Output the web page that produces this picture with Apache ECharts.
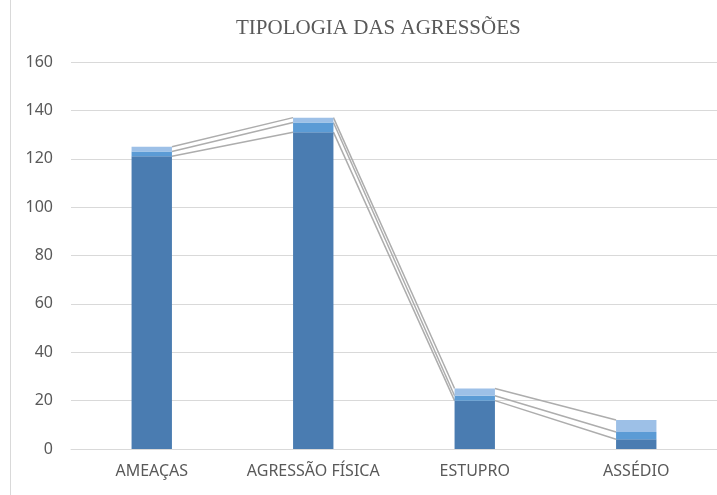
<!DOCTYPE html>
<html>
<head>
<meta charset="utf-8">
<script src="https://cdn.jsdelivr.net/npm/echarts@6/dist/echarts.min.js"></script>
<style>
  html, body { margin: 0; padding: 0; background: #fff; }
  #chart { width: 717px; height: 495px; }
</style>
</head>
<body>
<div id="chart"></div>
<script>
  // data (stacked, three layers per category)
  var categories = ['AMEAÇAS', 'AGRESSÃO FÍSICA', 'ESTUPRO', 'ASSÉDIO']
  var layer1 = [121, 131, 20, 4]
  var layer2 = [2, 4, 2, 3]
  var layer3 = [2, 2, 3, 5]
  var yTicks = { min: 0, max: 160, interval: 20 }

  var layers = [layer1, layer2, layer3]
  var colors = ['#4a7cb1', '#5b9bd5', '#9dc0e7']
  var barRatio = 0.25

  // cumulative tops of each layer, used for the series lines
  var cumulative = []
  layers.forEach(function(layer, k) {
    cumulative.push(layer.map(function(v, i) {
      return k === 0 ? v : cumulative[k - 1][i] + v
    }))
  })

  var linkData = []
  for (var i = 0; i < categories.length - 1; i++) {
    for (var k = 0; k < layers.length; k++) {
      linkData.push([i, k])
    }
  }

  var series = layers.map(function(layer, k) {
    return {
      name: 'S' + (k + 1),
      type: 'bar',
      stack: 'total',
      barWidth: '25%',
      itemStyle: { color: colors[k] },
      data: layer
    }
  })

  series.push({
    type: 'custom',
    silent: true,
    data: linkData,
    renderItem: function(params, api) {
      var idx = api.value(0)
      var k = api.value(1)
      var p0 = api.coord([idx, cumulative[k][idx]])
      var p1 = api.coord([idx + 1, cumulative[k][idx + 1]])
      var half = api.size([1, 0])[0] * barRatio / 2
      return {
        type: 'line',
        shape: { x1: p0[0] + half, y1: p0[1], x2: p1[0] - half, y2: p1[1] },
        style: { stroke: '#adadad', lineWidth: 1.5 }
      }
    }
  })

  var chart = echarts.init(document.getElementById('chart'))
  chart.setOption({
    animation: false,
    title: {
      text: 'TIPOLOGIA DAS AGRESSÕES',
      left: 231,
      top: 13,
      textStyle: {
        fontFamily: 'Liberation Serif',
        fontWeight: 'normal',
        fontSize: 21,
        color: '#595959'
      }
    },
    graphic: [{
      type: 'line',
      shape: { x1: 10.5, y1: 0, x2: 10.5, y2: 495 },
      style: { stroke: '#d9d9d9', lineWidth: 1 }
    }],
    grid: { left: 71, top: 62, width: 648, height: 387 },
    xAxis: {
      type: 'category',
      data: categories,
      axisTick: { show: false },
      axisLine: { lineStyle: { color: '#d9d9d9', width: 1 } },
      axisLabel: {
        interval: 0,
        margin: 14,
        fontFamily: 'Noto Sans',
        fontSize: 16,
        color: '#595959'
      }
    },
    yAxis: {
      type: 'value',
      min: yTicks.min,
      max: yTicks.max,
      interval: yTicks.interval,
      axisLine: { show: false },
      axisTick: { show: false },
      splitLine: { lineStyle: { color: '#d9d9d9', width: 1 } },
      axisLabel: {
        margin: 18,
        fontFamily: 'Noto Sans',
        fontSize: 16,
        color: '#595959'
      }
    },
    series: series
  })
</script>
</body>
</html>
